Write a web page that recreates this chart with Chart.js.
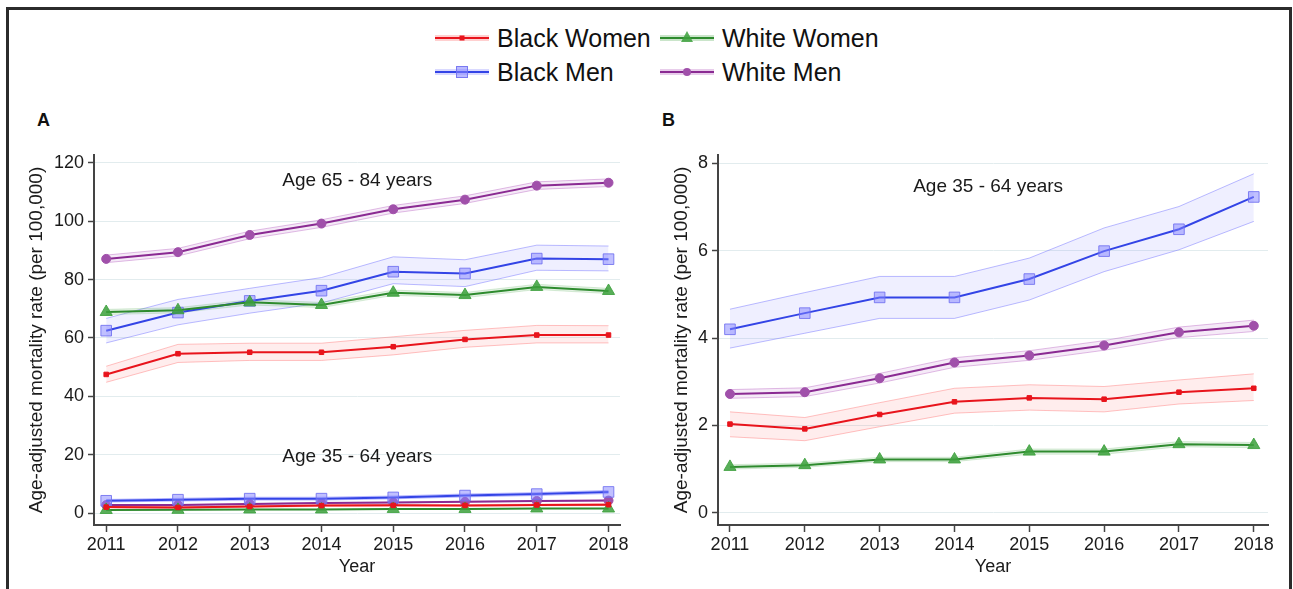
<!DOCTYPE html>
<html>
<head>
<meta charset="utf-8">
<script src="https://cdn.jsdelivr.net/npm/chart.js@4.4.1/dist/chart.umd.min.js"></script>
<style>
  body { margin: 0; background: #fff; width: 1293px; height: 589px; overflow: hidden; position: relative; font-family: "Liberation Sans", Arial, sans-serif; }
  #frame { position: absolute; left: 6px; top: 7px; width: 1280px; height: 620px; border: 3px solid #2b2b2b; border-bottom: none; }
  .item { position: absolute; height: 30px; line-height: 30px; font-size: 25px; color: #111; white-space: nowrap; }
  .item svg { position: absolute; left: 0; top: 5px; }
  .item span { position: absolute; left: 62px; top: 0; }
  .tag { position: absolute; font-weight: bold; font-size: 18px; color: #111; }
  canvas { position: absolute; top: 130px; }
</style>
</head>
<body>
<div id="frame"></div>

<div class="item" style="left:435px;top:23px">
  <svg width="56" height="20"><rect x="0" y="7" width="54" height="6" fill="rgba(255,120,120,0.35)"/><line x1="0" y1="10" x2="54" y2="10" stroke="#e8141c" stroke-width="2"/><rect x="24.5" y="7.5" width="5" height="5" fill="#e8141c"/></svg>
  <span>Black Women</span>
</div>
<div class="item" style="left:660px;top:23px">
  <svg width="56" height="20"><rect x="0" y="7" width="54" height="6" fill="rgba(80,170,80,0.3)"/><line x1="0" y1="10" x2="54" y2="10" stroke="#2e8b2e" stroke-width="2"/><polygon points="27,3 33,14 21,14" fill="rgba(60,160,60,0.85)"/></svg>
  <span>White Women</span>
</div>
<div class="item" style="left:435px;top:57px">
  <svg width="56" height="20"><rect x="0" y="7" width="54" height="6" fill="rgba(130,130,255,0.3)"/><line x1="0" y1="10" x2="54" y2="10" stroke="#3344e6" stroke-width="2"/><rect x="21.5" y="4.5" width="11" height="11" fill="rgba(130,130,255,0.55)" stroke="rgba(110,110,240,0.9)"/></svg>
  <span>Black Men</span>
</div>
<div class="item" style="left:660px;top:57px">
  <svg width="56" height="20"><rect x="0" y="7" width="54" height="6" fill="rgba(180,90,190,0.3)"/><line x1="0" y1="10" x2="54" y2="10" stroke="#8a2a92" stroke-width="2"/><circle cx="27" cy="10" r="4" fill="#a050aa"/></svg>
  <span>White Men</span>
</div>

<div class="tag" style="left:37px;top:110px">A</div>
<div class="tag" style="left:662px;top:110px">B</div>

<canvas id="chartA" width="640" height="459" style="left:0px"></canvas>
<canvas id="chartB" width="648" height="459" style="left:645px"></canvas>

<script>
// Datas
const years = [2011, 2012, 2013, 2014, 2015, 2016, 2017, 2018];
const ticksA = [0, 20, 40, 60, 80, 100, 120];
const ticksB = [0, 2, 4, 6, 8];

// Age 65 - 84 years
const blackWomenOld = [47.5, 54.6, 55.1, 55.1, 57.0, 59.5, 61.0, 61.0];
const blackWomenOldLo = [44.8, 51.6, 52.3, 52.3, 54.2, 56.8, 58.3, 58.3];
const blackWomenOldHi = [50.3, 57.8, 58.2, 58.2, 60.4, 62.6, 64.3, 64.2];
const blackMenOld = [62.5, 68.7, 72.7, 76.2, 82.7, 82.1, 87.2, 87.0];
const blackMenOldLo = [58.3, 64.5, 68.5, 72.0, 78.6, 77.6, 83.2, 83.0];
const blackMenOldHi = [66.7, 73.2, 77.0, 80.7, 87.8, 86.8, 91.8, 91.5];
const whiteWomenOld = [68.9, 69.5, 72.2, 71.3, 75.5, 74.7, 77.5, 76.1];
const whiteWomenOldLo = [68.0, 68.6, 71.3, 70.4, 74.6, 73.8, 76.6, 75.2];
const whiteWomenOldHi = [69.8, 70.4, 73.1, 72.2, 76.4, 75.6, 78.4, 77.0];
const whiteMenOld = [87.1, 89.4, 95.3, 99.2, 104.1, 107.4, 112.2, 113.2];
const whiteMenOldLo = [85.8, 88.1, 94.0, 97.9, 102.8, 106.1, 110.9, 111.9];
const whiteMenOldHi = [88.4, 90.7, 96.6, 100.5, 105.4, 108.7, 113.5, 114.5];

// Age 35 - 64 years
const blackWomenMid = [2.03, 1.92, 2.25, 2.54, 2.63, 2.60, 2.76, 2.85];
const blackWomenMidLo = [1.74, 1.65, 1.97, 2.28, 2.35, 2.31, 2.49, 2.57];
const blackWomenMidHi = [2.31, 2.18, 2.52, 2.85, 2.93, 2.89, 3.04, 3.18];
const blackMenMid = [4.20, 4.57, 4.93, 4.93, 5.35, 5.99, 6.49, 7.23];
const blackMenMidLo = [3.77, 4.11, 4.45, 4.45, 4.87, 5.52, 6.02, 6.67];
const blackMenMidHi = [4.66, 5.04, 5.41, 5.41, 5.83, 6.52, 7.01, 7.76];
const whiteWomenMid = [1.05, 1.09, 1.22, 1.22, 1.40, 1.40, 1.57, 1.55];
const whiteWomenMidLo = [1.00, 1.04, 1.17, 1.17, 1.34, 1.34, 1.51, 1.49];
const whiteWomenMidHi = [1.10, 1.14, 1.27, 1.27, 1.46, 1.46, 1.63, 1.61];
const whiteMenMid = [2.72, 2.76, 3.08, 3.44, 3.60, 3.83, 4.13, 4.28];
const whiteMenMidLo = [2.62, 2.66, 2.97, 3.33, 3.49, 3.72, 4.01, 4.15];
const whiteMenMidHi = [2.82, 2.86, 3.19, 3.55, 3.71, 3.94, 4.25, 4.41];

const font = '"Liberation Sans", Arial, sans-serif';

const styles = {
  blackWomen: { line: '#e8141c', band: 'rgba(255,110,110,0.12)', edge: 'rgba(255,120,120,0.45)', point: 'rect', radius: 3.2, bg: '#e8141c', border: '#e8141c' },
  blackMen: { line: '#3344e6', band: 'rgba(130,130,255,0.13)', edge: 'rgba(120,120,255,0.5)', point: 'rect', radius: 7.5, bg: 'rgba(130,130,255,0.5)', border: 'rgba(110,110,240,0.85)' },
  whiteWomen: { line: '#2e8b2e', band: 'rgba(80,170,80,0.15)', edge: 'rgba(80,170,80,0.2)', point: 'triangle', radius: 7, bg: 'rgba(60,160,60,0.85)', border: 'rgba(60,160,60,0.85)' },
  whiteMen: { line: '#8a2a92', band: 'rgba(180,90,190,0.13)', edge: 'rgba(180,90,190,0.4)', point: 'circle', radius: 4.5, bg: '#a050aa', border: '#a050aa' }
};

const pts = vals => years.map((x, i) => ({ x: x, y: vals[i] }));

// one series = line + upper/lower band
function series(vals, lo, hi, s) {
  return [
    { data: pts(vals), borderColor: s.line, borderWidth: 2, pointStyle: s.point, pointRadius: s.radius,
      pointBackgroundColor: s.bg, pointBorderColor: s.border, pointBorderWidth: 1, fill: false, order: 0 },
    { data: pts(hi), borderColor: s.edge, borderWidth: 1, pointRadius: 0, backgroundColor: s.band, fill: '+1', order: 1 },
    { data: pts(lo), borderColor: s.edge, borderWidth: 1, pointRadius: 0, fill: false, order: 1 }
  ];
}

const notesPlugin = {
  id: 'notes',
  afterDatasetsDraw(chart, args, opts) {
    const ctx = chart.ctx;
    ctx.save();
    ctx.font = '19px ' + font;
    ctx.fillStyle = '#1a1a1a';
    ctx.textAlign = 'center';
    ctx.textBaseline = 'middle';
    (opts.items || []).forEach(n => {
      ctx.fillText(n.text, chart.scales.x.getPixelForValue(n.x), chart.scales.y.getPixelForValue(n.y));
    });
    ctx.restore();
  }
};

function makePanel(id, datasets, cfg) {
  return new Chart(id, {
    type: 'line',
    data: { datasets: datasets },
    plugins: [notesPlugin],
    options: {
      responsive: false,
      animation: false,
      devicePixelRatio: 1,
      layout: { padding: { top: 25, right: cfg.padRight, left: 0, bottom: 0 } },
      plugins: { legend: { display: false }, tooltip: { enabled: false }, notes: { items: cfg.notes } },
      scales: {
        x: {
          type: 'linear', min: cfg.xMin, max: cfg.xMax,
          afterBuildTicks: s => { s.ticks = years.map(v => ({ value: v })); },
          afterFit: s => { s.height = 64; },
          grid: { drawOnChartArea: false, tickLength: 7, tickColor: '#444', tickWidth: 1.5 },
          border: { color: '#444', width: 2 },
          ticks: { callback: v => String(v), color: '#1a1a1a', font: { size: 18, family: font }, padding: 2, maxRotation: 0, autoSkip: false },
          title: { display: true, text: 'Year', color: '#1a1a1a', font: { size: 18, family: font }, padding: { top: 0, bottom: 11 } }
        },
        y: {
          min: cfg.yMin, max: cfg.yMax,
          afterBuildTicks: s => { s.ticks = cfg.yTicks.map(v => ({ value: v })); },
          afterFit: s => { s.width = cfg.yWidth; },
          grid: { color: '#e2ecee', lineWidth: 1, tickLength: 6, tickColor: '#444', tickWidth: 1.5 },
          border: { color: '#444', width: 2 },
          ticks: { callback: v => String(v), color: '#1a1a1a', font: { size: 18, family: font }, padding: 4 },
          title: { display: true, text: 'Age-adjusted mortality rate (per 100,000)', color: '#1a1a1a', font: { size: 19, family: font }, padding: { top: 25, bottom: 0 } }
        }
      }
    }
  });
}

const datasetsA = [].concat(
  series(blackWomenOld, blackWomenOldLo, blackWomenOldHi, styles.blackWomen),
  series(whiteWomenOld, whiteWomenOldLo, whiteWomenOldHi, styles.whiteWomen),
  series(blackMenOld, blackMenOldLo, blackMenOldHi, styles.blackMen),
  series(whiteMenOld, whiteMenOldLo, whiteMenOldHi, styles.whiteMen),
  series(blackWomenMid, blackWomenMidLo, blackWomenMidHi, styles.blackWomen),
  series(whiteWomenMid, whiteWomenMidLo, whiteWomenMidHi, styles.whiteWomen),
  series(blackMenMid, blackMenMidLo, blackMenMidHi, styles.blackMen),
  series(whiteMenMid, whiteMenMidLo, whiteMenMidHi, styles.whiteMen)
);

const datasetsB = [].concat(
  series(blackWomenMid, blackWomenMidLo, blackWomenMidHi, styles.blackWomen),
  series(whiteWomenMid, whiteWomenMidLo, whiteWomenMidHi, styles.whiteWomen),
  series(blackMenMid, blackMenMidLo, blackMenMidHi, styles.blackMen),
  series(whiteMenMid, whiteMenMidLo, whiteMenMidHi, styles.whiteMen)
);

makePanel('chartA', datasetsA, {
  xMin: 2010.83, xMax: 2018.16, yMin: -4.1, yMax: 122.7, yTicks: ticksA, yWidth: 94, padRight: 20,
  notes: [
    { text: 'Age 65 - 84 years', x: 2014.5, y: 113.9 },
    { text: 'Age 35 - 64 years', x: 2014.5, y: 19.3 }
  ]
});

makePanel('chartB', datasetsB, {
  xMin: 2010.84, xMax: 2018.19, yMin: -0.28, yMax: 8.19, yTicks: ticksB, yWidth: 73, padRight: 25,
  notes: [
    { text: 'Age 35 - 64 years', x: 2014.45, y: 7.47 }
  ]
});
</script>
</body>
</html>
